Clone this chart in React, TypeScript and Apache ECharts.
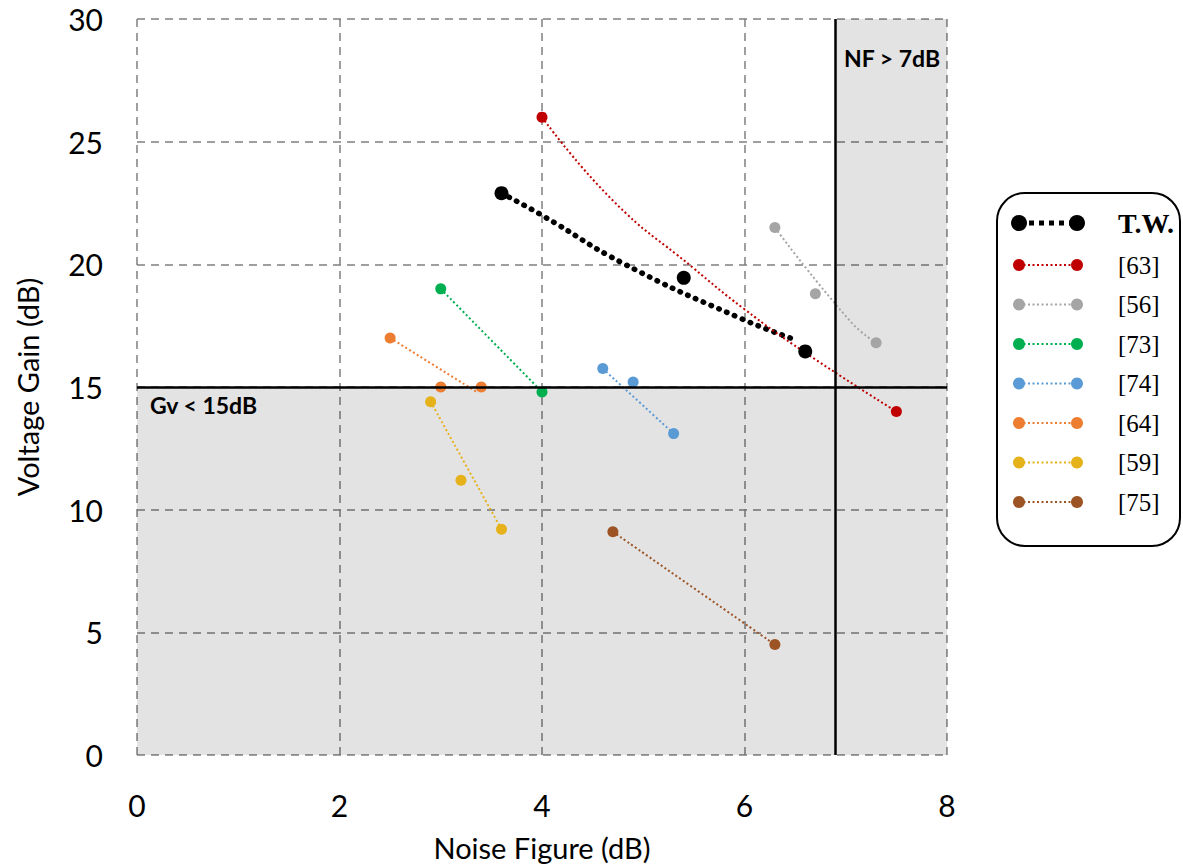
import React, { useEffect, useRef } from "react";
import * as echarts from "echarts";

const seriesNames = ["T.W.", "[63]", "[56]", "[73]", "[74]", "[64]", "[59]", "[75]"];
const seriesColors = ["#000000", "#c00000", "#a5a5a5", "#00b050", "#5b9bd5", "#ed7d31", "#e6b21b", "#9c5424"];

// measured points (Noise Figure dB, Voltage Gain dB)
const twPoints = [[3.6, 22.9], [5.4, 19.45], [6.6, 16.45]];
const ref63Points = [[4.0, 26.0], [7.5, 14.0]];
const ref56Points = [[6.3, 21.5], [6.7, 18.8], [7.3, 16.8]];
const ref73Points = [[3.0, 19.0], [4.0, 14.8]];
const ref74Points = [[4.6, 15.75], [4.9, 15.2], [5.3, 13.1]];
const ref64Points = [[2.5, 17.0], [3.0, 15.0], [3.4, 15.0]];
const ref59Points = [[2.9, 14.4], [3.2, 11.2], [3.6, 9.2]];
const ref75Points = [[4.7, 9.1], [6.3, 4.5]];

// trend curves as drawn in the picture
const twTrend = [[3.6, 22.9], [4.0, 22.0], [4.82, 20.0], [5.96, 17.8], [6.52, 16.9]];
const ref63Trend = [[4.0, 26.0], [4.7, 22.6], [5.48, 19.9], [5.99, 18.2], [6.6, 16.4], [7.5, 14.0]];
const ref56Trend = [[6.3, 21.5], [7.04, 17.7], [7.3, 16.8]];
const ref73Trend = [[3.0, 19.0], [4.0, 14.8]];
const ref74Trend = [[4.6, 15.75], [5.3, 13.1]];
const ref64Trend = [[2.5, 17.0], [3.37, 14.76]];
const ref59Trend = [[2.9, 14.4], [3.6, 9.2]];
const ref75Trend = [[4.7, 9.1], [6.3, 4.5]];

const allPoints = [twPoints, ref63Points, ref56Points, ref73Points, ref74Points, ref64Points, ref59Points, ref75Points];
const allTrends = [twTrend, ref63Trend, ref56Trend, ref73Trend, ref74Trend, ref64Trend, ref59Trend, ref75Trend];

const nfLimit = 6.9;
const gvLimit = 15;
const gvLabel = "Gv < 15dB";
const nfLabel = "NF > 7dB";

export default function App() {
  const ref = useRef<HTMLDivElement>(null);
  useEffect(() => {
    if (!ref.current) return;
    const chart = echarts.init(ref.current, null, { renderer: "svg" });
    const font = "Lato";
    const series: any[] = [];
    // background shading + limit lines
    series.push({
      type: "line",
      data: [],
      silent: true,
      markArea: {
        silent: true,
        itemStyle: { color: "rgba(0,0,0,0.11)" },
        label: { show: false },
        data: [
          [{ xAxis: 0, yAxis: 0 }, { xAxis: 8, yAxis: gvLimit }],
          [{ xAxis: nfLimit, yAxis: gvLimit }, { xAxis: 8, yAxis: 30 }],
        ],
      },
      markLine: {
        silent: true,
        symbol: "none",
        label: { show: false },
        lineStyle: { color: "#000", width: 2.5, type: "solid" },
        data: [{ xAxis: nfLimit }, { yAxis: gvLimit }],
      },
    });
    allTrends.forEach((t, i) => {
      series.push({
        type: "line",
        name: seriesNames[i] + " trend",
        data: t,
        smooth: true,
        showSymbol: false,
        symbol: "none",
        lineStyle: i === 0
          ? { color: seriesColors[i], width: 5.5, type: [0.5, 8], cap: "round" }
          : { color: seriesColors[i], width: 2, type: [2, 2.5] },
        z: 3,
      });
    });
    allPoints.forEach((p, i) => {
      series.push({
        type: "scatter",
        name: seriesNames[i],
        data: p,
        symbol: "circle",
        symbolSize: i === 0 ? 14 : 11,
        itemStyle: { color: seriesColors[i], opacity: 1 },
        z: 4,
      });
    });

    // legend drawn as graphic
    const legendChildren: any[] = [
      {
        type: "rect",
        shape: { x: 0, y: 0, width: 183, height: 353, r: 28 },
        style: { fill: "#fff", stroke: "#000", lineWidth: 2 },
      },
    ];
    seriesNames.forEach((n, i) => {
      const y = i === 0 ? 30 : 72 + (i - 1) * 39.5;
      const big = i === 0;
      legendChildren.push({
        type: "line",
        shape: { x1: 22, y1: y, x2: 80, y2: y },
        style: big
          ? { stroke: seriesColors[i], lineWidth: 5, lineDash: [5, 5] }
          : { stroke: seriesColors[i], lineWidth: 2, lineDash: [2, 2.5] },
      });
      legendChildren.push({ type: "circle", shape: { cx: 22, cy: y, r: big ? 8 : 6 }, style: { fill: seriesColors[i] } });
      legendChildren.push({ type: "circle", shape: { cx: 80, cy: y, r: big ? 8 : 6 }, style: { fill: seriesColors[i] } });
      legendChildren.push({
        type: "text",
        x: 121,
        y: y,
        style: {
          text: n,
          fill: "#000",
          font: big ? "bold 28px 'Liberation Serif'" : "25px 'Liberation Serif'",
          verticalAlign: "middle",
          align: "left",
        },
      });
    });

    chart.setOption({
      animation: false,
      backgroundColor: "#fff",
      grid: { left: 137, right: 236, top: 19, bottom: 112, containLabel: false, outerBoundsMode: "none" },
      xAxis: {
        type: "value",
        min: 0,
        max: 8,
        interval: 2,
        name: "Noise Figure (dB)",
        nameLocation: "middle",
        nameGap: 78,
        nameTextStyle: { fontSize: 29, fontFamily: font, color: "#000" },
        axisLine: { show: false },
        axisTick: { show: false },
        axisLabel: { fontSize: 30, fontFamily: font, color: "#000", margin: 35 },
        splitLine: { show: true, lineStyle: { color: "#808080", width: 1.5, type: [8, 6] } },
      },
      yAxis: {
        type: "value",
        min: 0,
        max: 30,
        interval: 5,
        name: "Voltage Gain (dB)",
        nameLocation: "middle",
        nameGap: 95,
        nameTextStyle: { fontSize: 29, fontFamily: font, color: "#000" },
        axisLine: { show: false },
        axisTick: { show: false },
        axisLabel: { fontSize: 30, fontFamily: font, color: "#000", margin: 34 },
        splitLine: { show: true, lineStyle: { color: "#808080", width: 1.5, type: [8, 6] } },
      },
      graphic: [
        { type: "group", x: 997, y: 193, children: legendChildren },
        {
          type: "text", x: 150, y: 405, z: 10,
          style: { text: gvLabel, fill: "#000", font: "bold 23px Lato", verticalAlign: "middle", align: "left" },
        },
        {
          type: "text", x: 892, y: 58, z: 10,
          style: { text: nfLabel, fill: "#000", font: "bold 23px Lato", verticalAlign: "middle", align: "center" },
        },
      ],
      series,
    });
    return () => chart.dispose();
  }, []);
  return <div ref={ref} style={{ width: 1183, height: 867, position: "absolute", left: 0, top: 0 }} />;
}
